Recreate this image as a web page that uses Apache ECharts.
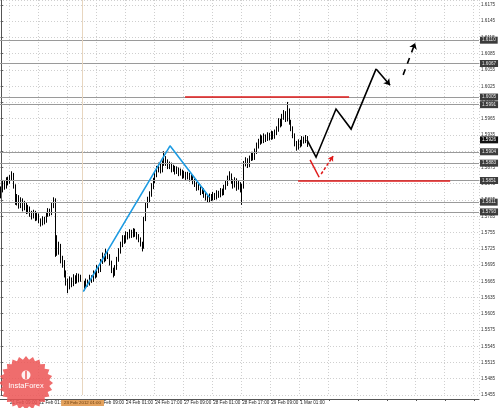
<!DOCTYPE html>
<html><head><meta charset="utf-8">
<script src="https://cdn.jsdelivr.net/npm/echarts@6/dist/echarts.min.js"></script>
<style>html,body{margin:0;padding:0;background:#fff}#c{width:499px;height:408px}</style>
</head><body><div id="c"></div>
<script>
// Hourly GBP/USD candles: [open, close, low, high]
const candles = [
[1.5825,1.5833,1.5818,1.5840],[1.5833,1.5846,1.5829,1.5852],[1.5846,1.5839,1.5834,1.5850],[1.5839,1.5852,1.5836,1.5857],
[1.5852,1.5848,1.5842,1.5858],[1.5848,1.5856,1.5845,1.5861],[1.5856,1.5862,1.5851,1.5868],[1.5862,1.5840,1.5836,1.5865],
[1.5840,1.5812,1.5806,1.5844],[1.5812,1.5820,1.5805,1.5826],[1.5820,1.5805,1.5799,1.5824],[1.5805,1.5815,1.5800,1.5820],
[1.5815,1.5800,1.5794,1.5818],[1.5800,1.5808,1.5796,1.5813],[1.5808,1.5795,1.5789,1.5811],[1.5795,1.5800,1.5790,1.5806],
[1.5800,1.5790,1.5784,1.5803],[1.5790,1.5785,1.5779,1.5795],[1.5785,1.5792,1.5781,1.5797],[1.5792,1.5782,1.5776,1.5795],
[1.5782,1.5786,1.5777,1.5791],[1.5786,1.5778,1.5772,1.5790],[1.5778,1.5772,1.5766,1.5781],[1.5772,1.5780,1.5768,1.5785],
[1.5780,1.5776,1.5770,1.5784],[1.5776,1.5788,1.5773,1.5793],[1.5788,1.5795,1.5784,1.5800],[1.5795,1.5790,1.5785,1.5799],
[1.5790,1.5805,1.5787,1.5810],[1.5805,1.5815,1.5800,1.5820],[1.5815,1.5745,1.5710,1.5818],[1.5745,1.5720,1.5712,1.5750],
[1.5720,1.5730,1.5714,1.5738],[1.5730,1.5705,1.5698,1.5734],[1.5705,1.5700,1.5690,1.5712],[1.5700,1.5680,1.5672,1.5704],
[1.5680,1.5665,1.5657,1.5685],[1.5665,1.5655,1.5643,1.5670],[1.5655,1.5668,1.5650,1.5674],[1.5668,1.5660,1.5654,1.5672],
[1.5660,1.5672,1.5656,1.5678],[1.5672,1.5665,1.5660,1.5676],[1.5665,1.5675,1.5661,1.5680],[1.5675,1.5668,1.5663,1.5679],
[1.5668,1.5672,1.5664,1.5677],[1.5672,1.5662,1.5657,1.5675],[1.5662,1.5655,1.5648,1.5666],[1.5655,1.5665,1.5651,1.5670],
[1.5665,1.5660,1.5655,1.5668],[1.5660,1.5672,1.5657,1.5677],[1.5672,1.5668,1.5662,1.5676],[1.5668,1.5680,1.5664,1.5685],
[1.5680,1.5675,1.5670,1.5684],[1.5675,1.5690,1.5672,1.5695],[1.5690,1.5685,1.5680,1.5694],[1.5685,1.5700,1.5682,1.5706],
[1.5700,1.5712,1.5697,1.5718],[1.5712,1.5705,1.5700,1.5716],[1.5705,1.5718,1.5702,1.5725],[1.5718,1.5712,1.5706,1.5722],
[1.5712,1.5700,1.5694,1.5715],[1.5700,1.5685,1.5680,1.5703],[1.5685,1.5678,1.5672,1.5690],[1.5678,1.5690,1.5675,1.5695],
[1.5690,1.5705,1.5686,1.5710],[1.5705,1.5720,1.5701,1.5726],[1.5720,1.5732,1.5716,1.5738],[1.5732,1.5745,1.5728,1.5750],
[1.5745,1.5740,1.5734,1.5750],[1.5740,1.5752,1.5736,1.5757],[1.5752,1.5748,1.5742,1.5756],[1.5748,1.5756,1.5744,1.5761],
[1.5756,1.5750,1.5745,1.5760],[1.5750,1.5758,1.5746,1.5763],[1.5758,1.5752,1.5747,1.5762],[1.5752,1.5748,1.5742,1.5756],
[1.5748,1.5742,1.5737,1.5752],[1.5742,1.5735,1.5729,1.5746],[1.5735,1.5728,1.5720,1.5738],[1.5728,1.5780,1.5725,1.5784],
[1.5780,1.5805,1.5776,1.5810],[1.5805,1.5815,1.5800,1.5821],[1.5815,1.5825,1.5810,1.5831],[1.5825,1.5840,1.5821,1.5846],
[1.5840,1.5850,1.5835,1.5856],[1.5850,1.5862,1.5846,1.5868],[1.5862,1.5872,1.5857,1.5878],[1.5872,1.5878,1.5866,1.5884],
[1.5878,1.5870,1.5864,1.5882],[1.5870,1.5882,1.5866,1.5888],[1.5882,1.5890,1.5878,1.5905],[1.5890,1.5885,1.5878,1.5896],
[1.5885,1.5878,1.5872,1.5890],[1.5878,1.5880,1.5872,1.5886],[1.5880,1.5872,1.5866,1.5884],[1.5872,1.5875,1.5867,1.5880],
[1.5875,1.5868,1.5862,1.5878],[1.5868,1.5872,1.5863,1.5877],[1.5872,1.5865,1.5859,1.5875],[1.5865,1.5868,1.5860,1.5873],
[1.5868,1.5860,1.5854,1.5871],[1.5860,1.5864,1.5855,1.5869],[1.5864,1.5858,1.5852,1.5867],[1.5858,1.5862,1.5853,1.5867],
[1.5862,1.5855,1.5849,1.5865],[1.5855,1.5858,1.5850,1.5863],[1.5858,1.5850,1.5844,1.5861],[1.5850,1.5845,1.5839,1.5854],
[1.5845,1.5838,1.5832,1.5848],[1.5838,1.5840,1.5833,1.5845],[1.5840,1.5830,1.5824,1.5843],[1.5830,1.5834,1.5826,1.5839],
[1.5834,1.5825,1.5819,1.5837],[1.5825,1.5820,1.5814,1.5829],[1.5820,1.5815,1.5810,1.5824],[1.5815,1.5822,1.5811,1.5827],
[1.5822,1.5818,1.5813,1.5826],[1.5818,1.5825,1.5814,1.5830],[1.5825,1.5820,1.5815,1.5828],[1.5820,1.5828,1.5816,1.5833],
[1.5828,1.5824,1.5819,1.5832],[1.5824,1.5832,1.5820,1.5837],[1.5832,1.5828,1.5823,1.5836],[1.5828,1.5838,1.5824,1.5843],
[1.5838,1.5845,1.5834,1.5850],[1.5845,1.5855,1.5841,1.5860],[1.5855,1.5860,1.5850,1.5868],[1.5860,1.5850,1.5845,1.5864],
[1.5850,1.5842,1.5836,1.5853],[1.5842,1.5852,1.5838,1.5857],[1.5852,1.5838,1.5832,1.5855],[1.5838,1.5845,1.5834,1.5850],
[1.5845,1.5835,1.5829,1.5848],[1.5835,1.5840,1.5806,1.5845],[1.5840,1.5882,1.5836,1.5887],[1.5882,1.5888,1.5877,1.5894],
[1.5888,1.5880,1.5874,1.5892],[1.5880,1.5892,1.5876,1.5897],[1.5892,1.5898,1.5887,1.5904],[1.5898,1.5893,1.5888,1.5902],
[1.5893,1.5905,1.5889,1.5910],[1.5905,1.5915,1.5900,1.5921],[1.5915,1.5922,1.5910,1.5928],[1.5922,1.5930,1.5917,1.5936],
[1.5930,1.5925,1.5919,1.5934],[1.5925,1.5932,1.5920,1.5938],[1.5932,1.5928,1.5922,1.5936],[1.5928,1.5935,1.5924,1.5940],
[1.5935,1.5930,1.5925,1.5939],[1.5930,1.5938,1.5926,1.5943],[1.5938,1.5932,1.5927,1.5942],[1.5932,1.5940,1.5928,1.5945],
[1.5940,1.5945,1.5935,1.5951],[1.5945,1.5960,1.5941,1.5966],[1.5960,1.5955,1.5949,1.5965],[1.5955,1.5968,1.5951,1.5974],
[1.5968,1.5975,1.5963,1.5981],[1.5975,1.5965,1.5959,1.5979],[1.5965,1.5980,1.5960,1.5996],[1.5980,1.5960,1.5954,1.5984],
[1.5960,1.5948,1.5942,1.5963],[1.5948,1.5935,1.5929,1.5951],[1.5935,1.5920,1.5914,1.5938],[1.5920,1.5912,1.5906,1.5924],
[1.5912,1.5922,1.5908,1.5927],[1.5922,1.5918,1.5912,1.5926],[1.5918,1.5928,1.5914,1.5933],[1.5928,1.5924,1.5919,1.5932],
[1.5924,1.5930,1.5920,1.5935],[1.5930,1.5926,1.5913,1.5933]
];
// horizontal support / resistance levels (gray lines with price tags)
const levels = [1.6110, 1.6067, 1.6005, 1.5991, 1.5904, 1.5883, 1.5851, 1.5811, 1.5793];
const currentPrice = 1.5926;
// annotation drawings: [bar position, price]
const resistanceRed = [[101.5, 1.6005], [191.9, 1.6005]];
const supportRed = [[163.8, 1.5851], [247.6, 1.5851]];
const blueTrend = [[45.4, 1.5646], [93.2, 1.5915], [114.9, 1.5820]];
const forecastPath = [[168.7, 1.5926], [173.7, 1.5894], [184.7, 1.5983], [193.0, 1.5946], [206.8, 1.6057]];
const forecastLast = [[206.8, 1.6057], [214.5, 1.6027]];
const forecastDashed = [[221.7, 1.6046], [228.3, 1.6105]];
const altDown = [[170.4, 1.5889], [175.4, 1.5857]];
const altUp = [[176.5, 1.5863], [183.1, 1.5896]];
const markerBar = 45;
const markerText = '23 Feb 2012 01:00';
// axis settings
const yMin = 1.5455, yMax = 1.61842, yStep = 0.003;
const NBARS = 264;
const LABEL_EVERY = 16, LABEL_OFFSET = 5;
const startTime = Date.UTC(2012, 1, 21, 4);
const months = ['Jan','Feb','Mar','Apr','May','Jun','Jul','Aug','Sep','Oct','Nov','Dec'];

const cats = [];
let t = startTime;
while (cats.length < NBARS) {
  const d = new Date(t);
  const wd = d.getUTCDay();
  if (wd !== 0 && wd !== 6) {
    const h = d.getUTCHours();
    cats.push(d.getUTCDate() + ' ' + months[d.getUTCMonth()] + ' ' + (h < 10 ? '0' + h : h) + ':00');
  }
  t += 3600000;
}
const showIdx = i => i % LABEL_EVERY === LABEL_OFFSET;
const FONT = 'Liberation Sans';

// watermark star
const cx = 26, cy = 383, pts = [];
for (let k = 0; k < 48; k++) {
  const r = k % 2 ? 23.5 : 27;
  const a = Math.PI * 2 * k / 48;
  pts.push([cx + r * Math.cos(a), cy + r * Math.sin(a)]);
}

const chart = echarts.init(document.getElementById('c'), null, {renderer: 'canvas'});
chart.setOption({
  animation: false,
  backgroundColor: '#ffffff',
  textStyle: {fontFamily: FONT},
  grid: {left: 0, right: 20, top: 0, bottom: 13},
  xAxis: [{
    type: 'category', data: cats, boundaryGap: true, offset: 4,
    axisLine: {show: true, lineStyle: {color: '#555', width: 1}},
    axisTick: {show: true, interval: i => showIdx(i), alignWithLabel: true, length: 2, lineStyle: {color: '#555'}},
    axisLabel: {
      interval: i => showIdx(i) && i < candles.length,
      align: 'left', margin: 1, fontSize: 4.6, color: '#222', fontFamily: FONT
    },
    splitLine: {show: true, interval: i => showIdx(i), lineStyle: {color: '#cfcfcf', type: [1, 2], width: 1}}
  }, {
    type: 'value', min: -0.5, max: NBARS - 0.5, show: false
  }],
  yAxis: [{
    type: 'value', position: 'right', min: yMin, max: yMax, interval: yStep, scale: true,
    axisLine: {show: true, lineStyle: {color: '#555', width: 1}},
    axisTick: {show: true, length: 2, lineStyle: {color: '#555'}},
    axisLabel: {showMaxLabel: false, margin: 2, fontSize: 4.6, color: '#333', fontFamily: FONT,
      formatter: v => v.toFixed(4)},
    splitLine: {show: true, lineStyle: {color: '#cfcfcf', type: [1, 2], width: 1}}
  }],
  graphic: [
    {type: 'polygon', shape: {points: pts}, style: {fill: 'rgba(236,84,84,0.85)'}, z: 100, silent: true},
    {type: 'circle', shape: {cx: cx, cy: cy - 8, r: 4.5}, style: {fill: 'rgba(255,255,255,0.9)'}, z: 101},
    {type: 'rect', shape: {x: cx - 0.8, y: cy - 12, width: 1.6, height: 8}, style: {fill: 'rgba(236,84,84,0.9)'}, z: 102},
    {type: 'text', x: cx, y: cy + 3, style: {text: 'InstaForex', fill: '#fff', fontSize: 7.5, fontFamily: FONT, align: 'center', verticalAlign: 'middle'}, z: 103}
  ],
  series: [
    {
      type: 'candlestick', xAxisIndex: 0, yAxisIndex: 0, data: candles, barWidth: 1,
      itemStyle: {color: '#000', color0: '#000', borderColor: '#000', borderColor0: '#000', borderWidth: 1},
      markLine: {
        silent: true, symbol: ['none', 'none'], animation: false, precision: 4,
        lineStyle: {color: '#9a9a9a', type: 'solid', width: 1},
        label: {show: true, position: 'end', distance: 1, formatter: p => Number(p.value).toFixed(4),
          backgroundColor: '#3c3c3c', color: '#e8e8e8', fontSize: 4.6, padding: [1, 2, 1, 2], fontFamily: FONT},
        data: levels.map(v => ({yAxis: v})).concat([{
          yAxis: currentPrice, lineStyle: {color: 'rgba(0,0,0,0)', width: 0},
          label: {backgroundColor: '#111', color: '#fff'}
        }])
      }
    },
    {
      type: 'line', xAxisIndex: 1, yAxisIndex: 0, data: blueTrend, symbol: 'none',
      lineStyle: {color: '#1d9be2', width: 1.6}, z: 5,
      markLine: {
        silent: true, symbol: ['none', 'none'], animation: false,
        lineStyle: {color: '#e8d6bf', type: 'solid', width: 1},
        label: {show: true, position: 'start', distance: 5, formatter: markerText,
          backgroundColor: '#e3a25e', color: '#6b3e0e', fontSize: 4.4, padding: [1, 3, 1, 3], fontFamily: FONT},
        data: [{xAxis: markerBar}]
      }
    },
    {
      type: 'lines', coordinateSystem: 'cartesian2d', xAxisIndex: 1, yAxisIndex: 0, z: 6,
      lineStyle: {color: '#e01b1b', width: 1.5, opacity: 1},
      data: [{coords: resistanceRed}, {coords: supportRed}, {coords: altDown}]
    },
    {
      type: 'lines', coordinateSystem: 'cartesian2d', xAxisIndex: 1, yAxisIndex: 0, z: 6,
      symbol: ['none', 'arrow'], symbolSize: 5,
      lineStyle: {color: '#e01b1b', width: 1.5, type: [3, 2], opacity: 1},
      data: [{coords: altUp}]
    },
    {
      type: 'lines', coordinateSystem: 'cartesian2d', xAxisIndex: 1, yAxisIndex: 0, z: 7, polyline: true,
      lineStyle: {color: '#000', width: 1.6, opacity: 1},
      data: [{coords: forecastPath}]
    },
    {
      type: 'lines', coordinateSystem: 'cartesian2d', xAxisIndex: 1, yAxisIndex: 0, z: 7,
      symbol: ['none', 'arrow'], symbolSize: 6,
      lineStyle: {color: '#000', width: 1.6, opacity: 1},
      data: [{coords: forecastLast}]
    },
    {
      type: 'lines', coordinateSystem: 'cartesian2d', xAxisIndex: 1, yAxisIndex: 0, z: 7,
      symbol: ['none', 'arrow'], symbolSize: 6,
      lineStyle: {color: '#000', width: 1.6, type: [6, 6], opacity: 1},
      data: [{coords: forecastDashed}]
    }
  ]
});
</script></body></html>
